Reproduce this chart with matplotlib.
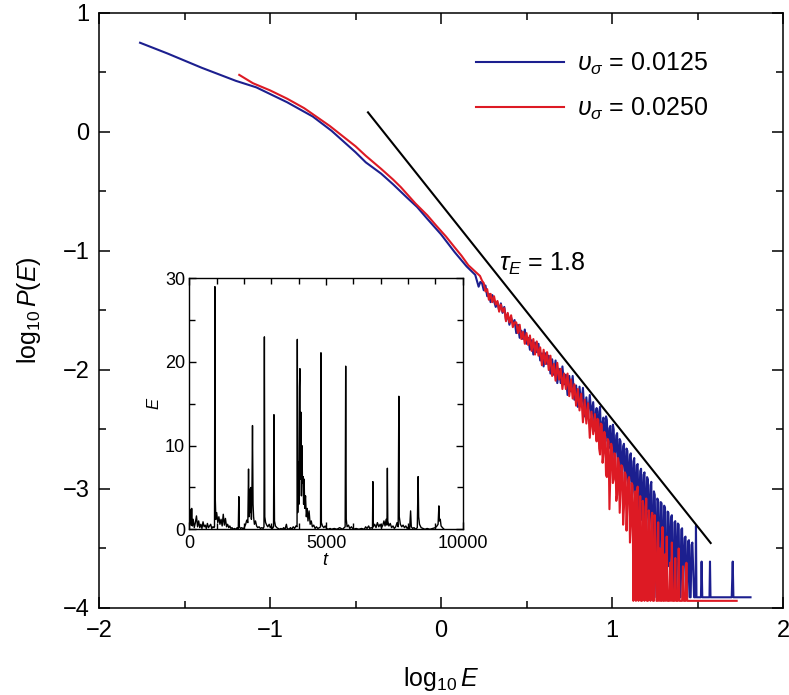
import matplotlib
matplotlib.use("Agg")
import matplotlib.pyplot as plt
from matplotlib.ticker import MultipleLocator

plt.rcParams['font.family'] = ['Liberation Sans', 'DejaVu Sans']
plt.rcParams['mathtext.fontset'] = 'custom'
plt.rcParams['mathtext.rm'] = 'Liberation Sans'
plt.rcParams['mathtext.it'] = 'Liberation Sans:italic'

# log10 P(E) vs log10 E, v_sigma = 0.0125 (blue)
blue_x = [-1.76, -1.6, -1.4, -1.2, -1.08, -0.9, -0.75, -0.64, -0.5, -0.44,
          -0.35, -0.28, -0.2, -0.14, -0.08, 0.0, 0.08, 0.15, 0.2, 0.22, 0.23,
          0.24, 0.25, 0.26, 0.27, 0.28, 0.29, 0.30, 0.31, 0.32, 0.33,
          0.34, 0.35, 0.36, 0.37, 0.38, 0.39, 0.40, 0.41, 0.42, 0.43,
          0.44, 0.45, 0.46, 0.47, 0.48, 0.49, 0.50, 0.51, 0.52, 0.53,
          0.54, 0.55, 0.56, 0.57, 0.58, 0.59, 0.60, 0.61, 0.62, 0.63,
          0.64, 0.65, 0.66, 0.67, 0.68, 0.69, 0.70, 0.71, 0.72, 0.73,
          0.74, 0.75, 0.76, 0.77, 0.78, 0.79, 0.80, 0.81, 0.82, 0.83,
          0.84, 0.85, 0.86, 0.87, 0.88, 0.89,
          0.900, 0.905, 0.910, 0.915, 0.920, 0.925, 0.930, 0.935, 0.940, 0.945,
          0.950, 0.955, 0.960, 0.965, 0.970, 0.975, 0.980, 0.985, 0.990, 0.995,
          1.000, 1.005, 1.010, 1.015, 1.020, 1.025, 1.030, 1.035, 1.040, 1.045,
          1.050, 1.055, 1.060, 1.065, 1.070, 1.075, 1.080, 1.085, 1.090, 1.095,
          1.100, 1.105, 1.110, 1.115, 1.120, 1.125, 1.130, 1.135, 1.140, 1.145,
          1.150, 1.155, 1.160, 1.165, 1.170, 1.175, 1.180, 1.185, 1.190, 1.195,
          1.200, 1.205, 1.210, 1.215, 1.220, 1.225, 1.230, 1.235, 1.240, 1.245,
          1.250, 1.255, 1.260, 1.265, 1.270, 1.275, 1.280, 1.285, 1.290, 1.295,
          1.300, 1.305, 1.310, 1.315, 1.320, 1.325, 1.330, 1.335, 1.340, 1.345,
          1.350, 1.355, 1.360, 1.365, 1.370, 1.375, 1.380, 1.385, 1.390, 1.395,
          1.400, 1.405, 1.410, 1.415, 1.420, 1.425, 1.430, 1.435, 1.440, 1.445,
          1.450, 1.455, 1.460, 1.465, 1.470,
          1.48, 1.488, 1.491, 1.494, 1.52, 1.524, 1.528, 1.57, 1.573, 1.576,
          1.70, 1.706, 1.71, 1.81]
blue_y = [0.75, 0.66, 0.54, 0.43, 0.375, 0.25, 0.13, 0.01, -0.17, -0.255,
          -0.35, -0.44, -0.55, -0.63, -0.73, -0.86, -1.01, -1.13, -1.20, -1.30, -1.26,
          -1.27, -1.33, -1.29, -1.38, -1.36, -1.43, -1.37, -1.42, -1.47, -1.43,
          -1.50, -1.44, -1.52, -1.47, -1.58, -1.53, -1.62, -1.56, -1.61, -1.58,
          -1.69, -1.62, -1.73, -1.67, -1.74, -1.66, -1.78, -1.73, -1.83, -1.75,
          -1.87, -1.77, -1.85, -1.78, -1.92, -1.86, -1.97, -1.86, -1.95, -1.88,
          -2.03, -1.91, -2.04, -1.92, -2.11, -1.99, -2.11, -1.97, -2.12, -2.04,
          -2.21, -2.05, -2.18, -2.05, -2.25, -2.13, -2.31, -2.14, -2.30, -2.15,
          -2.39, -2.23, -2.40, -2.21, -2.39, -2.27,
          -2.51, -2.38, -2.32, -2.47, -2.51, -2.35, -2.31, -2.52, -2.59, -2.44,
          -2.40, -2.55, -2.60, -2.39, -2.42, -2.63, -2.66, -2.49, -2.47, -2.70,
          -2.73, -2.46, -2.50, -2.78, -2.69, -2.55, -2.53, -2.84, -2.81, -2.58,
          -2.60, -2.90, -2.82, -2.64, -2.62, -2.95, -2.92, -2.66, -2.68, -3.00,
          -2.93, -2.72, -2.70, -3.08, -3.02, -2.77, -2.74, -3.15, -3.04, -2.80,
          -2.79, -3.20, -3.12, -2.85, -2.83, -3.26, -3.10, -2.88, -2.86, -3.35,
          -3.24, -2.90, -2.92, -3.40, -3.22, -2.97, -2.94, -3.91, -3.35, -3.02,
          -3.05, -3.50, -3.91, -3.08, -3.10, -3.91, -3.45, -3.11, -3.12, -3.70,
          -3.55, -3.14, -3.16, -3.91, -3.91, -3.19, -3.20, -3.65, -3.50, -3.24,
          -3.22, -3.91, -3.91, -3.28, -3.27, -3.91, -3.60, -3.29, -3.30, -3.91,
          -3.91, -3.34, -3.33, -3.91, -3.62, -3.41, -3.40, -3.91, -3.91, -3.44,
          -3.43, -3.91, -3.91, -3.47, -3.45,
          -3.91, -3.91, -3.31, -3.91, -3.91, -3.61, -3.91, -3.91, -3.61, -3.91,
          -3.91, -3.61, -3.91, -3.91]

# v_sigma = 0.0250 (red)
red_x = [-1.18, -1.1, -1.0, -0.9, -0.8, -0.65, -0.5, -0.44, -0.35, -0.28,
         -0.234, -0.15, -0.08, -0.026, 0.03, 0.08, 0.12, 0.16, 0.19, 0.228, 0.24,
         0.25, 0.26, 0.27, 0.28, 0.29, 0.30, 0.31, 0.32, 0.33,
         0.34, 0.35, 0.36, 0.37, 0.38, 0.39, 0.40, 0.41, 0.42, 0.43,
         0.44, 0.45, 0.46, 0.47, 0.48, 0.49, 0.50, 0.51, 0.52, 0.53,
         0.54, 0.55, 0.56, 0.57, 0.58, 0.59, 0.60, 0.61, 0.62, 0.63,
         0.64, 0.65, 0.66, 0.67, 0.68, 0.69, 0.70, 0.71, 0.72, 0.73,
         0.74, 0.75, 0.76, 0.77, 0.78, 0.79, 0.80,
         0.81, 0.82, 0.83, 0.84, 0.85, 0.86, 0.87, 0.88, 0.89,
         0.900, 0.905, 0.910, 0.915, 0.920, 0.925, 0.930, 0.935, 0.940, 0.945,
         0.950, 0.955, 0.960, 0.965, 0.970, 0.975, 0.980, 0.985, 0.990, 0.995,
         1.000, 1.005, 1.010, 1.015, 1.020, 1.025, 1.030, 1.035, 1.040, 1.045,
         1.050, 1.055, 1.060, 1.065, 1.070, 1.075, 1.080, 1.085, 1.090, 1.095,
         1.100, 1.105, 1.110, 1.115, 1.120, 1.125, 1.130, 1.135, 1.140, 1.145,
         1.150, 1.155, 1.160, 1.165, 1.170, 1.175, 1.180, 1.185, 1.190, 1.195,
         1.200, 1.205, 1.210, 1.215, 1.220, 1.225, 1.230, 1.235, 1.240, 1.245,
         1.250, 1.255, 1.260, 1.265, 1.270, 1.275, 1.280, 1.285, 1.290, 1.295,
         1.300, 1.305, 1.310, 1.315, 1.320, 1.325, 1.330, 1.335, 1.340, 1.345,
         1.350, 1.355, 1.360, 1.365, 1.370, 1.375, 1.380, 1.385, 1.390, 1.395,
         1.400, 1.405, 1.410, 1.415, 1.420, 1.425, 1.430, 1.435, 1.440, 1.445,
         1.450, 1.50, 1.60, 1.729]
red_y = [0.48, 0.41, 0.35, 0.28, 0.20, 0.05, -0.12, -0.20, -0.31, -0.40,
         -0.465, -0.60, -0.70, -0.79, -0.88, -0.97, -1.04, -1.12, -1.16, -1.21, -1.25,
         -1.27, -1.34, -1.32, -1.41, -1.36, -1.43, -1.38, -1.45, -1.42,
         -1.51, -1.45, -1.51, -1.48, -1.59, -1.52, -1.60, -1.54, -1.64, -1.60,
         -1.60, -1.69, -1.62, -1.74, -1.68, -1.78, -1.69, -1.79, -1.71, -1.84,
         -1.74, -1.87, -1.76, -1.88, -1.81, -1.96, -1.83, -1.95, -1.85, -2.00,
         -1.88, -2.05, -1.95, -2.09, -1.94, -2.08, -1.99, -2.16, -2.03, -2.16,
         -2.03, -2.22, -2.08, -2.24, -2.12, -2.30, -2.16,
         -2.34, -2.20, -2.44, -2.25, -2.45, -2.28, -2.57, -2.35, -2.54,
         -2.37, -2.52, -2.60, -2.41, -2.42, -2.66, -2.71, -2.45, -2.46, -2.78,
         -2.70, -2.52, -2.56, -2.88, -2.90, -2.58, -2.60, -3.17, -2.88, -2.62,
         -2.66, -2.95, -2.92, -2.70, -2.72, -3.10, -3.05, -2.74, -2.78, -3.20,
         -3.00, -2.80, -2.82, -3.30, -3.15, -2.86, -2.88, -3.35, -3.12, -2.92,
         -2.90, -3.45, -3.30, -2.95, -2.97, -3.94, -3.25, -3.02, -3.94, -3.05,
         -2.98, -3.94, -3.40, -3.06, -3.94, -3.94, -3.10, -3.15, -3.94, -3.55,
         -3.08, -3.94, -3.94, -3.18, -3.25, -3.94, -3.60, -3.20, -3.94, -3.94,
         -3.22, -3.45, -3.94, -3.94, -3.28, -3.94, -3.50, -3.94, -3.94, -3.32,
         -3.94, -3.94, -3.55, -3.94, -3.40, -3.94, -3.94, -3.94, -3.62, -3.94,
         -3.45, -3.94, -3.94, -3.94, -3.58, -3.94, -3.94, -3.94, -3.50, -3.94,
         -3.94, -3.94, -3.94, -3.65, -3.94, -3.94, -3.94, -3.62, -3.94, -3.94,
         -3.94, -3.94, -3.94, -3.94]

# power law guide, slope -tau_E
guide_x = [-0.427, 1.577]
guide_y = [0.165, -3.454]

# inset: E(t) time series
inset_t = [0, 30, 60, 85, 110, 140, 180, 220, 260, 300, 340, 380, 420, 460, 500,
           540, 580, 620, 660, 700, 740, 780, 820, 860, 900,
           920, 935, 950, 970, 1000, 1040, 1080, 1120, 1160, 1200, 1240, 1280,
           1320, 1360, 1400, 1440, 1480, 1520, 1560, 1600, 1650, 1700, 1750,
           1790, 1810, 1830, 1870, 1920, 1970, 2020, 2060, 2100, 2140, 2165,
           2185, 2210, 2230, 2250, 2270, 2290, 2310, 2330, 2350, 2380, 2420,
           2460, 2500, 2550, 2600, 2650, 2700, 2730, 2745, 2760, 2790, 2830,
           2870, 2920, 2960, 3000, 3040, 3080, 3095, 3115, 3150, 3200, 3250,
           3300, 3350, 3400, 3450, 3500, 3550, 3580, 3650, 3700, 3750, 3800,
           3850, 3900, 3940, 3950, 3965, 3990, 4010, 4030, 4045, 4060, 4080,
           4100, 4120, 4140, 4160, 4180, 4200, 4220, 4250, 4280, 4310, 4340,
           4380, 4420, 4460, 4500, 4550, 4600, 4650, 4700, 4760, 4800, 4815,
           4830, 4870, 4920, 4970, 5020, 5080, 5150, 5200, 5300, 5400, 5500,
           5600, 5700, 5720, 5740, 5770, 5820, 5870, 5930, 6000, 6100, 6200,
           6300, 6400, 6450, 6500, 6560, 6600, 6650, 6700, 6715, 6730, 6780,
           6830, 6880, 6930, 6980, 7030, 7080, 7120, 7160, 7200, 7230, 7245,
           7260, 7300, 7350, 7400, 7450, 7500, 7550, 7600, 7640, 7665, 7680,
           7720, 7770, 7820, 7870, 7920, 7970, 8020, 8060, 8095, 8120, 8170,
           8220, 8280, 8340, 8370, 8390, 8420, 8480, 8550, 8620, 8700, 8800,
           8900, 9000, 9060, 9100, 9130, 9150, 9180, 9210, 9260, 9320]
inset_E = [0.3, 2.4, 0.5, 2.5, 0.4, 1.2, 0.2, 0.8, 1.6, 0.3, 1.0, 0.2, 0.6, 0.1, 0.9,
           0.3, 0.5, 0.1, 0.7, 0.2, 0.4, 0.6, 0.1, 0.3, 0.2,
           0.3, 29.0, 3.5, 1.2, 2.0, 0.8, 1.5, 0.6, 1.2, 0.4, 1.8, 0.5,
           1.3, 0.3, 0.6, 0.2, 0.4, 0.1, 0.2, 0.0, 0.1, 0.0, 0.2,
           0.1, 3.9, 0.3, 0.1, 0.2, 0.0, 0.3, 0.6, 1.1, 0.8, 7.2,
           1.5, 4.8, 2.0, 5.0, 1.2, 4.5, 12.4, 3.0, 1.5, 0.6, 1.0,
           0.4, 0.2, 0.3, 0.1, 0.2, 0.1, 0.3, 23.0, 1.5, 0.8, 0.5,
           0.3, 0.6, 0.2, 0.4, 0.1, 0.3, 13.7, 1.0, 0.4, 0.2, 0.1,
           0.0, 0.1, 0.0, 0.2, 0.0, 0.6, 0.1, 0.0, 0.2, 0.0, 0.3,
           0.1, 0.4, 0.3, 22.7, 2.0, 8.0, 3.0, 17.0, 19.2, 6.0, 14.0,
           4.0, 10.0, 5.5, 6.3, 3.0, 6.0, 2.5, 4.0, 1.5, 2.5, 1.0,
           2.2, 0.6, 1.0, 0.3, 0.5, 0.1, 0.3, 0.1, 0.2, 0.3, 21.1,
           0.8, 0.4, 0.2, 0.4, 0.1, 0.0, 0.1, 0.0, 0.1, 0.0, 0.2,
           0.0, 0.3, 19.5, 1.2, 0.3, 0.5, 0.1, 0.3, 0.0, 0.1, 0.0,
           0.1, 0.0, 0.3, 0.1, 0.4, 0.1, 0.2, 0.1, 5.7, 0.3, 0.6,
           0.2, 0.8, 0.3, 0.6, 0.2, 0.5, 1.0, 0.4, 1.2, 0.5, 7.3,
           1.0, 0.4, 0.7, 0.2, 0.4, 0.1, 0.3, 0.8, 0.3, 15.9, 1.5,
           0.6, 0.3, 0.5, 0.2, 0.4, 0.1, 0.3, 0.1, 2.2, 0.3, 0.1,
           0.2, 0.0, 0.2, 6.3, 1.5, 0.6, 0.2, 0.1, 0.0, 0.1, 0.0,
           0.1, 0.2, 0.4, 0.6, 2.8, 1.0, 1.2, 0.4, 0.2, 0.0]

blue = '#1c1f8f'
red = '#dd1a24'

fig = plt.figure(figsize=(7.89, 6.95), dpi=100)
ax = fig.add_axes([0.1255, 0.1252, 0.8669, 0.8561])

ax.plot(blue_x, blue_y, color=blue, lw=1.5, label=r'$\upsilon_\sigma$ = 0.0125')
ax.plot(red_x, red_y, color=red, lw=1.5, label=r'$\upsilon_\sigma$ = 0.0250')
ax.plot(guide_x, guide_y, color='black', lw=1.5)
ax.text(0.34, -1.11, r'$\tau_E$ = 1.8', fontsize=18, va='center', ha='left')

ax.set_xlim(-2, 2)
ax.set_ylim(-4, 1)
ax.set_xticks([-2, -1, 0, 1, 2])
ax.set_yticks([-4, -3, -2, -1, 0, 1])
ax.xaxis.set_minor_locator(MultipleLocator(0.5))
ax.yaxis.set_minor_locator(MultipleLocator(0.5))
ax.tick_params(which='both', direction='in', top=True, right=True, width=1.1)
ax.tick_params(which='major', length=8, labelsize=17)
ax.tick_params(axis='x', which='major', pad=9)
ax.tick_params(axis='y', which='major', pad=7)
ax.tick_params(which='minor', length=5)
for s in ax.spines.values():
    s.set_linewidth(1.1)
ax.set_xlabel(r'$\mathrm{log}_{10}\,E$', fontsize=18, labelpad=16)
ax.set_ylabel(r'$\mathrm{log}_{10}\,P(E)$', fontsize=18, labelpad=14)

ax.legend(loc='upper left', bbox_to_anchor=(0.533, 0.957), frameon=False,
          fontsize=18, handlelength=3.5, handletextpad=0.55, labelspacing=0.75,
          borderpad=0)

# inset
ins = fig.add_axes([0.240, 0.2384, 0.3464, 0.3612])
ins.plot(inset_t, inset_E, color='black', lw=1.0)
ins.set_xlim(0, 10000)
ins.set_ylim(0, 30)
ins.set_xticks([0, 5000, 10000])
ins.set_yticks([0, 10, 20, 30])
ins.xaxis.set_minor_locator(MultipleLocator(1000))
ins.yaxis.set_minor_locator(MultipleLocator(5))
ins.tick_params(which='both', direction='in', top=True, right=True, width=1.0)
ins.tick_params(which='major', length=5, labelsize=13)
ins.tick_params(axis='x', which='major', pad=4)
ins.tick_params(axis='y', which='major', pad=3)
ins.tick_params(which='minor', length=4)
for s in ins.spines.values():
    s.set_linewidth(1.0)
ins.set_xlabel(r'$t$', fontsize=13, labelpad=0)
ins.set_ylabel(r'$E$', fontsize=12, labelpad=2)

fig.savefig('out.png', dpi=100)
